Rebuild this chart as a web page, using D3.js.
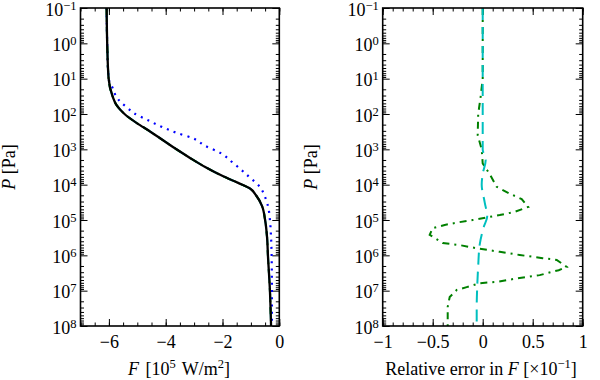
<!DOCTYPE html>
<html>
<head>
<meta charset="utf-8">
<script src="https://cdn.jsdelivr.net/npm/d3@7"></script>
<style>
	body { margin: 0; background: #fff; }
	text { font-family: "Liberation Serif", "DejaVu Serif", serif; fill: #000; }
</style>
</head>
<body>
<script>
// ---- data (log10 of pressure in Pa) ----
const decades = [-1, 0, 1, 2, 3, 4, 5, 6, 7, 8];
const ticksF = [-6, -4, -2, 0];
const ticksErr = [-1, -0.5, 0, 0.5, 1];

// left panel: net flux F [1e5 W/m2]
const logP_ref = [-1, 0, 1, 1.5, 1.75, 2, 2.25, 2.5, 2.75, 3, 3.25, 3.5, 3.75, 3.95, 4.11, 4.3, 4.6, 5, 5.5, 6, 7, 8];
const F_ref    = [-6.08, -6.06, -6.01, -5.87, -5.73, -5.45, -5.03, -4.54, -4.08, -3.62, -3.13, -2.61, -2.01, -1.45, -1.03, -0.82, -0.61, -0.50, -0.43, -0.40, -0.33, -0.29];

const logP_dot = [-1, 0, 1, 1.26, 1.46, 1.66, 1.83, 1.97, 2.17, 2.37, 2.54, 2.68, 2.9, 3.1, 3.39, 3.73, 4.07, 4.35, 4.6, 5, 5.5, 6, 7, 8];
const F_dot    = [-6.08, -6.06, -6.01, -5.87, -5.77, -5.59, -5.34, -5.13, -4.64, -4.12, -3.59, -3.06, -2.61, -2.08, -1.62, -1.13, -0.68, -0.50, -0.40, -0.33, -0.29, -0.27, -0.26, -0.26];

// right panel: relative error in F [x1e-1]
const logP_dash = [-1, 0, 1, 2, 2.5, 3, 3.3, 3.7, 4.0, 4.5, 4.9, 5.2, 5.7, 6.3, 6.9, 7.5, 8];
const err_dash  = [0, 0, 0, 0, 0, 0, 0.03, 0, -0.01, 0.02, 0.045, 0.01, -0.03, -0.045, -0.055, -0.06, -0.06];

const logP_dashdot = [-1, 0, 1, 1.5, 2, 2.6, 3, 3.4, 3.7, 4.06, 4.24, 4.41, 4.63, 4.77, 4.86, 5, 5.06, 5.14, 5.23, 5.42, 5.65, 5.71, 5.8, 5.9, 5.99, 6.08, 6.13, 6.33, 6.42, 6.56, 6.64, 6.75, 6.79, 6.9, 6.98, 7.18, 7.46, 7.75, 8];
const err_dashdot  = [0, 0, 0, -0.02, -0.045, -0.05, -0.01, 0, 0.07, 0.14, 0.26, 0.39, 0.455, 0.32, 0.17, -0.1, -0.23, -0.38, -0.5, -0.53, -0.4, -0.23, -0.06, 0.17, 0.37, 0.6, 0.74, 0.84, 0.76, 0.57, 0.37, 0.14, -0.03, -0.16, -0.26, -0.33, -0.35, -0.35, -0.35];

// ---- layout ----
const width = 600, height = 380;
const plotTop = 8, plotBottom = 326;
const fontSize = 18, supSize = 12.5;

const svg = d3.select("body").append("svg")
	.attr("width", width).attr("height", height);

const scaleY = d3.scaleLog([1e-1, 1e8], [plotTop, plotBottom]);

// minor ticks of the log axis: 2..9 in every decade
const minorP = [];
for (let d = -1; d < 8; d++)
	for (let k = 2; k < 10; k++) minorP.push(k * 10 ** d);

const zip = (lp, v) => lp.map((p, i) => [v[i], 10 ** p]);

function drawPanel(scaleX, major, minor, fmt) {
	const [x0, x1] = scaleX.range();
	const g = svg.append("g");

	const addAxis = (gen, tr) => {
		const a = g.append("g").attr("transform", tr).call(gen);
		a.select(".domain").remove();
		a.selectAll("line").attr("stroke", "#000").attr("stroke-width", 1);
		a.attr("font-family", null).attr("font-size", fontSize);
		return a;
	};

	// bottom
	addAxis(d3.axisBottom(scaleX).tickValues(major).tickSize(-7).tickPadding(9).tickFormat(fmt),
		`translate(0,${plotBottom})`);
	addAxis(d3.axisBottom(scaleX).tickValues(minor).tickSize(-3.5).tickFormat(""), `translate(0,${plotBottom})`);
	// top
	addAxis(d3.axisTop(scaleX).tickValues(major).tickSize(-7).tickFormat(""), `translate(0,${plotTop})`);
	addAxis(d3.axisTop(scaleX).tickValues(minor).tickSize(-3.5).tickFormat(""), `translate(0,${plotTop})`);
	// left, with 10^k labels
	const ly = addAxis(d3.axisLeft(scaleY).tickValues(decades.map(d => 10 ** d)).tickSize(-7).tickPadding(4),
		`translate(${x0},0)`);
	ly.selectAll("text").each(function (d) {
		const t = d3.select(this).text("").attr("dy", 7);
		t.append("tspan").text("10");
		t.append("tspan").attr("dy", -6).attr("font-size", supSize)
			.text(String(Math.round(Math.log10(d))).replace("-", "\u2212"));
	});
	addAxis(d3.axisLeft(scaleY).tickValues(minorP).tickSize(-3.5).tickFormat(""), `translate(${x0},0)`);
	// right
	addAxis(d3.axisRight(scaleY).tickValues(decades.map(d => 10 ** d)).tickSize(-7).tickFormat(""), `translate(${x1},0)`);
	addAxis(d3.axisRight(scaleY).tickValues(minorP).tickSize(-3.5).tickFormat(""), `translate(${x1},0)`);

	const plot = g.append("g");
	g.append("rect")
		.attr("x", x0).attr("y", plotTop)
		.attr("width", x1 - x0).attr("height", plotBottom - plotTop)
		.attr("fill", "none").attr("stroke", "#000").attr("stroke-width", 1.6);

	// y label
	const yl = g.append("text")
		.attr("transform", `translate(${x0 - 66},${(plotTop + plotBottom) / 2})rotate(-90)`)
		.attr("text-anchor", "middle").attr("font-size", fontSize);
	yl.append("tspan").attr("font-style", "italic").text("P");
	yl.append("tspan").text(" [Pa]");

	return plot;
}

const fmtNum = d => String(d).replace("-", "\u2212");

// ---- left panel ----
const xLeft = d3.scaleLinear([-7, 0], [80.5, 279.3]);
const leftPlot = drawPanel(xLeft, ticksF, d3.range(-7, 0.01, 0.5), fmtNum);

const lineL = d3.line().x(d => xLeft(d[0])).y(d => scaleY(d[1])).curve(d3.curveMonotoneY);
leftPlot.append("path").datum(zip(logP_dot, F_dot)).attr("d", lineL)
	.attr("fill", "none").attr("stroke", "#0000ff").attr("stroke-width", 2.2).attr("stroke-dasharray", "2,5.2");
leftPlot.append("path").datum(zip(logP_ref, F_ref)).attr("d", lineL)
	.attr("fill", "none").attr("stroke", "#00bfbf").attr("stroke-width", 2).attr("stroke-dasharray", "12,7");
leftPlot.append("path").datum(zip(logP_ref, F_ref)).attr("d", lineL)
	.attr("fill", "none").attr("stroke", "#008000").attr("stroke-width", 2).attr("stroke-dasharray", "7,5,2,5");
leftPlot.append("path").datum(zip(logP_ref, F_ref)).attr("d", lineL)
	.attr("fill", "none").attr("stroke", "#000").attr("stroke-width", 2.3);

svg.append("text").attr("x", 179).attr("y", 375).attr("text-anchor", "middle").attr("font-size", fontSize)
	.attr("word-spacing", 2)
	.call(t => {
		t.append("tspan").attr("font-style", "italic").text("F");
		t.append("tspan").text(" [10");
		t.append("tspan").attr("dy", -7).attr("font-size", supSize).text("5");
		t.append("tspan").attr("dy", 7).text(" W/m");
		t.append("tspan").attr("dy", -7).attr("font-size", supSize).text("2");
		t.append("tspan").attr("dy", 7).text("]");
	});

// ---- right panel ----
const xRight = d3.scaleLinear([-1, 1], [382.7, 582.7]);
const rightPlot = drawPanel(xRight, ticksErr, d3.range(-1, 1.001, 0.1), fmtNum);

const lineR = d3.line().x(d => xRight(d[0])).y(d => scaleY(d[1]));
rightPlot.append("path").datum(zip(logP_dashdot, err_dashdot)).attr("d", lineR)
	.attr("fill", "none").attr("stroke", "#008000").attr("stroke-width", 2).attr("stroke-dasharray", "7,5,2,5");
rightPlot.append("path").datum(zip(logP_dash, err_dash)).attr("d", lineR.curve(d3.curveMonotoneY))
	.attr("fill", "none").attr("stroke", "#00bfbf").attr("stroke-width", 2).attr("stroke-dasharray", "12,7");

svg.append("text").attr("x", 481).attr("y", 375).attr("text-anchor", "middle").attr("font-size", fontSize)
	.call(t => {
		t.append("tspan").text("Relative error in ");
		t.append("tspan").attr("font-style", "italic").text("F");
		t.append("tspan").text(" [\u00d710");
		t.append("tspan").attr("dy", -7).attr("font-size", supSize).text("\u22121");
		t.append("tspan").attr("dy", 7).text("]");
	});
</script>
</body>
</html>
